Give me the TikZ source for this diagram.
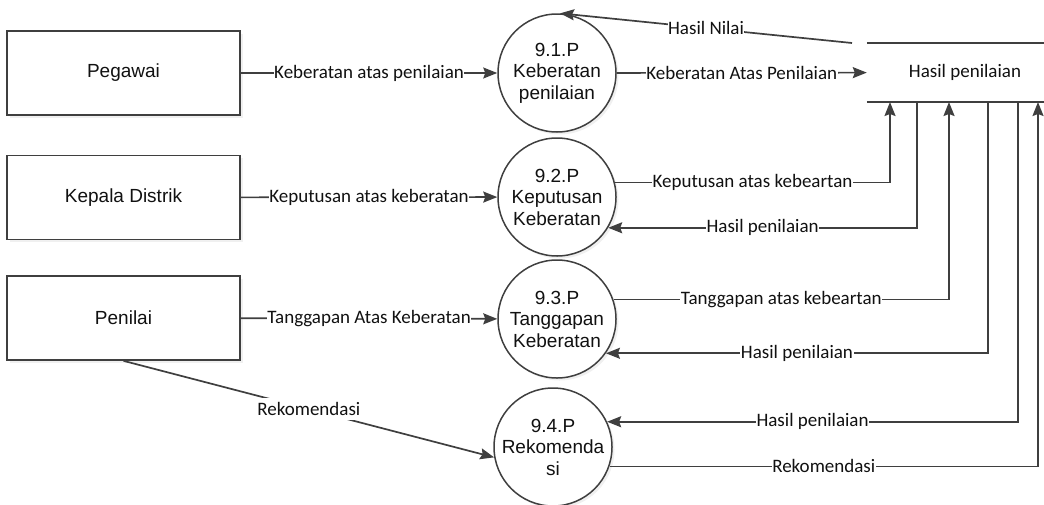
\documentclass[tikz,border=0pt]{standalone}
\usepackage{fontspec}
\setmainfont{Liberation Sans}
\newfontfamily\lblfont{Carlito}
\usetikzlibrary{arrows.meta, shadows, positioning}
\definecolor{dfdline}{HTML}{3F3F3F}
\definecolor{dfdtext}{HTML}{111111}
\tikzset{
  % entitas luar
  ent/.style={draw=dfdline, line width=1.7pt, fill=white, minimum width=233pt,
    minimum height=84pt, align=center, text=dfdtext, font=\fontsize{19}{22}\selectfont,
    drop shadow={shadow xshift=2.5pt, shadow yshift=-2.5pt, opacity=0.12}},
  % proses
  proc/.style={circle, draw=dfdline, line width=1.5pt, fill=white, minimum size=118pt,
    inner sep=0pt, align=center, text=dfdtext, font=\fontsize{19}{21.5}\selectfont,
    drop shadow={shadow xshift=2.5pt, shadow yshift=-2.5pt, opacity=0.12}},
  % penyimpanan data
  store/.style={minimum width=177pt, minimum height=59pt, inner sep=0pt,
    text=dfdtext, font=\lblfont\fontsize{19}{22}\selectfont},
  % aliran data
  flow/.style={draw=dfdline, line width=1.7pt,
    -{Stealth[length=14pt, width=11pt, inset=2pt]}},
  % label aliran
  lbl/.style={fill=white, inner xsep=0.5pt, inner ysep=1pt, text=dfdtext,
    font=\lblfont\fontsize{19}{22}\selectfont},
}

\begin{document}
\begin{tikzpicture}[x=1pt, y=-1pt]
  \useasboundingbox (0,0) rectangle (1044,504);

  % entitas
  \node[ent] (peg) at (123.5,73) {Pegawai};
  \node[ent] (kep) at (123.5,197.5) {Kepala Distrik};
  \node[ent] (pen) at (123.5,318) {Penilai};

  % proses
  \node[proc] (p1) at (557,73) {9.1.P\\Keberatan\\penilaian};
  \node[proc] (p2) at (557,197) {9.2.P\\Keputusan\\Keberatan};
  \node[proc] (p3) at (557,319) {9.3.P\\Tanggapan\\Keberatan};
  \node[proc] (p4) at (553,447) {9.4.P\\Rekomenda\\si};

  % penyimpanan
  \node[store] (hp) at (955.5,72.5) {\hspace{19pt}Hasil penilaian};
  \draw[draw=dfdline, line width=1.7pt] (hp.north west) -- (hp.north east);
  \draw[draw=dfdline, line width=1.7pt] (hp.south west) -- (hp.south east);
  \coordinate (hn) at (852,43);
  \coordinate (h1) at (890,102);
  \coordinate (h2) at (917,102);
  \coordinate (h3) at (949,102);
  \coordinate (h4) at (988,102);
  \coordinate (h5) at (1018,102);
  \coordinate (h6) at (1038,102);

  % aliran dari entitas
  \draw[flow] (peg) -- node[lbl] {Keberatan atas penilaian} (p1);
  \draw[flow] (kep) -- node[lbl] {Keputusan atas keberatan} (p2);
  \draw[flow] (pen) -- node[lbl] {Tanggapan Atas Keberatan} (p3);
  \draw[flow] (pen.south) -- node[lbl, inner sep=4pt] {Rekomendasi} (p4.190);

  % aliran ke dan dari penyimpanan
  \draw[flow] (hn) -- node[lbl] {Hasil Nilai} (p1.87);
  \draw[flow] (p1) -- node[lbl] {Keberatan Atas Penilaian} (hp);
  \draw[flow] (p2.14) -| node[lbl, pos=0.25] {Keputusan atas kebeartan} (h1);
  \draw[flow] (h2) |- node[lbl, pos=0.75] {Hasil penilaian} (p2.-31);
  \draw[flow] (p3.19) -| node[lbl, pos=0.25] {Tanggapan atas kebeartan} (h3);
  \draw[flow] (h4) |- node[lbl, pos=0.75] {Hasil penilaian} (p3.-35);
  \draw[flow] (h5) |- node[lbl, pos=0.75] {Hasil penilaian} (p4.25);
  \draw[flow] (p4.-19) -| node[lbl, pos=0.25] {Rekomendasi} (h6);
\end{tikzpicture}
\end{document}
